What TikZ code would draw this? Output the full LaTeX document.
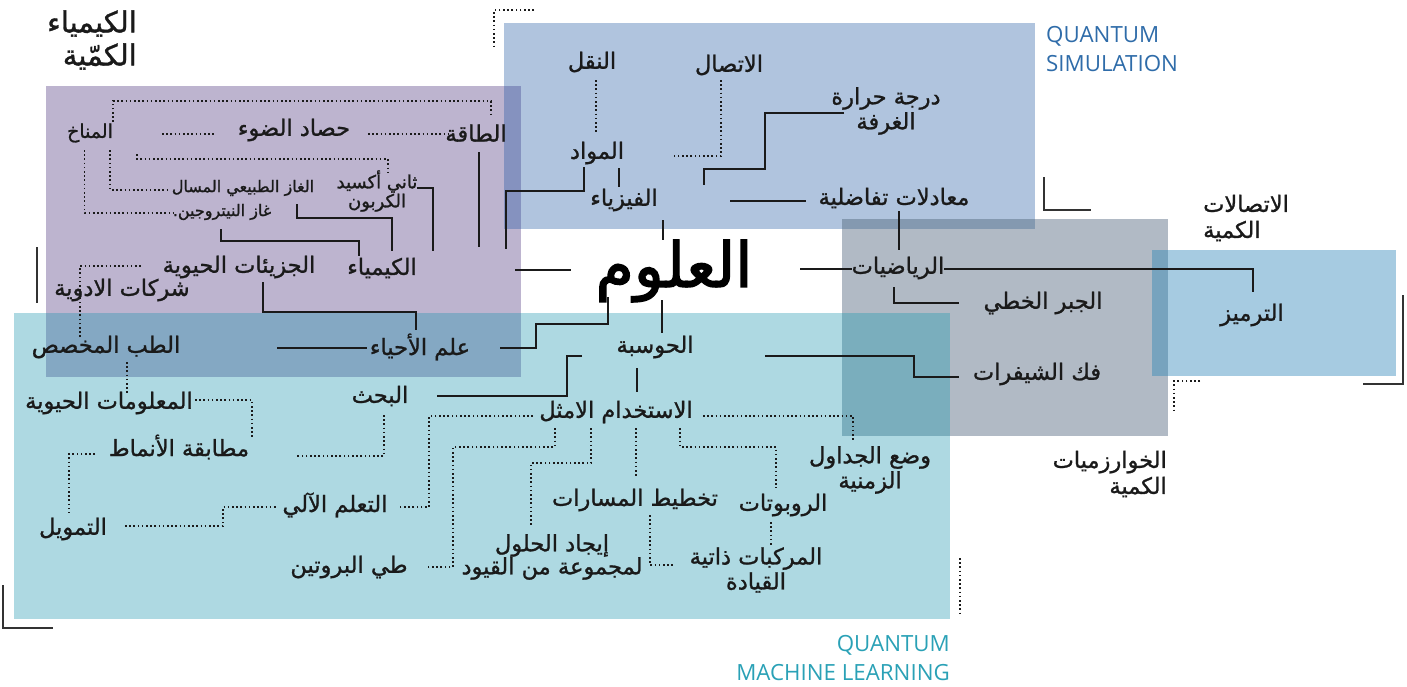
\documentclass[tikz,border=0pt]{standalone}
\usepackage{fontspec}
\newfontfamily\arabicfont[Script=Arabic,FakeBold=1.1]{DejaVu Sans}
\newfontfamily\arabicheavy[Script=Arabic,FakeBold=2.2]{DejaVu Sans}
\newfontfamily\latinfont{Open Sans}
\TeXXeTstate=1
\newcommand{\artxt}[1]{\beginR #1\endR}
\definecolor{ink}{HTML}{1A1A1A}
\definecolor{cornerc}{HTML}{333333}
\definecolor{simblue}{HTML}{B0C4DE}
\definecolor{chempurple}{HTML}{BDB4CF}
\definecolor{mlteal}{HTML}{AED9E2}
\definecolor{algogray}{HTML}{B1BAC5}
\definecolor{commblue}{HTML}{A6CBE1}
\definecolor{ovPB}{HTML}{8592BF}
\definecolor{ovPT}{HTML}{84A8C3}
\definecolor{ovBG}{HTML}{8499B0}
\definecolor{ovGT}{HTML}{7AAEBD}
\definecolor{ovGL}{HTML}{77A3BE}
\definecolor{simtext}{HTML}{2F6CA9}
\definecolor{mltext}{HTML}{2AA1B6}
\begin{document}
\begin{tikzpicture}[x=1pt,y=-1pt,
  solidline/.style={draw=ink,line width=1.5pt},
  dotline/.style={draw=ink,line width=1.6pt,dash pattern=on 1.6pt off 2.6pt},
  cornerline/.style={draw=cornerc,line width=1.5pt},
  cornerdot/.style={draw=ink,line width=1.6pt,dash pattern=on 1.6pt off 2.6pt},
  lbl/.style={font=\arabicfont\fontsize{22.5}{25}\selectfont,text=ink,inner sep=0pt,align=center},
  sml/.style={font=\arabicfont\fontsize{16}{18}\selectfont,text=ink,inner sep=0pt,align=center},
  big/.style={font=\arabicheavy\fontsize{62}{64}\selectfont,text=black,inner sep=0pt},
  ttl/.style={font=\arabicfont\fontsize{22.5}{26}\selectfont,text=ink,inner sep=0pt},
  entl/.style={font=\latinfont\fontsize{22.3}{29}\selectfont,inner sep=0pt}]
\useasboundingbox (0,0) rectangle (1407,686);
% regions
\fill[simblue] (504,23) rectangle (1035,229);
\fill[chempurple] (46,86) rectangle (521,377);
\fill[mlteal] (14,313) rectangle (950,619);
\fill[algogray] (842,219) rectangle (1168,436);
\fill[commblue] (1152,250) rectangle (1396,376);
\fill[ovPB] (504,86) rectangle (521,229);
\fill[ovPT] (46,313) rectangle (521,377);
\fill[ovBG] (842,219) rectangle (1035,229);
\fill[ovGT] (842,313) rectangle (950,436);
\fill[ovGL] (1152,250) rectangle (1168,376);
% corner marks
\draw[cornerdot] (534,10) coordinate (cA) -- (494,10) -- (494,48);
\draw[cornerline] (37,247) coordinate (cB) -- (37,303);
\draw[cornerline] (1044,177) coordinate (cC) -- (1044,210) -- (1091,210);
\draw[cornerline] (1403,295) coordinate (cD) -- (1403,384) -- (1363,384);
\draw[cornerdot] (1200,381) coordinate (cE) -- (1174,381) -- (1174,411);
\draw[cornerdot] (960,558) coordinate (cF) -- (960,613);
\draw[cornerline] (3,585) coordinate (cG) -- (3,628) -- (53,628);
% titles
\node[ttl,font=\arabicfont\fontsize{29}{33}\selectfont,align=right,anchor=east] (tchem) at (137,40) {\artxt{الكيمياء}\\\artxt{الكمّية}};
\node[ttl,align=left,anchor=west] (tcomm) at (1203,218) {\artxt{الاتصالات}\\\artxt{الكمية}};
\node[ttl,align=right,anchor=east] (talgo) at (1167,474) {\artxt{الخوارزميات}\\\artxt{الكمية}};
\node[entl,text=simtext,align=left,anchor=west] (tsim) at (1046,49) {QUANTUM\\SIMULATION};
\node[entl,text=mltext,align=right,anchor=east] (tml) at (950,658) {QUANTUM\\MACHINE LEARNING};
% nodes
\node[big] (ulum) at (674,271) {\artxt{العلوم}};
\node[lbl] (fiz) at (624,200) {\artxt{الفيزياء}};
\node[lbl] (mawad) at (597,153) {\artxt{المواد}};
\node[lbl] (naql) at (592,62) {\artxt{النقل}};
\node[lbl] (ittisal) at (729,65) {\artxt{الاتصال}};
\node[lbl] (daraja) at (886,111) {\artxt{درجة حرارة}\\\artxt{الغرفة}};
\node[lbl] (muadalat) at (894,198) {\artxt{معادلات تفاضلية}};
\node[lbl] (riyad) at (898,268) {\artxt{الرياضيات}};
\node[lbl] (jabr) at (1043,303) {\artxt{الجبر الخطي}};
\node[lbl] (tarmiz) at (1252,315) {\artxt{الترميز}};
\node[lbl] (fakk) at (1037,374) {\artxt{فك الشيفرات}};
\node[lbl] (hawsaba) at (655,347) {\artxt{الحوسبة}};
\node[lbl] (istikhdam) at (616,412) {\artxt{الاستخدام الامثل}};
\node[lbl] (wad) at (870,470) {\artxt{وضع الجداول}\\\artxt{الزمنية}};
\node[lbl] (robot) at (783,505) {\artxt{الروبوتات}};
\node[lbl] (markabat) at (756,570) {\artxt{المركبات ذاتية}\\\artxt{القيادة}};
\node[lbl] (takhtit) at (635,500) {\artxt{تخطيط المسارات}};
\node[lbl,font=\arabicfont\fontsize{22.5}{23}\selectfont] (ijad) at (552,557) {\artxt{إيجاد الحلول}\\\artxt{لمجموعة من القيود}};
\node[lbl] (tay) at (349,567) {\artxt{طي البروتين}};
\node[lbl] (taallum) at (335,505) {\artxt{التعلم الآلي}};
\node[lbl] (bahth) at (380,396) {\artxt{البحث}};
\node[lbl] (ahya) at (420,347) {\artxt{علم الأحياء}};
\node[lbl] (tibb) at (106,347) {\artxt{الطب المخصص}};
\node[lbl] (maalumat) at (109,403) {\artxt{المعلومات الحيوية}};
\node[lbl] (mutabaqa) at (179,447) {\artxt{مطابقة الأنماط}};
\node[lbl] (tamwil) at (73,529) {\artxt{التمويل}};
\node[lbl] (juzayat) at (239,267) {\artxt{الجزيئات الحيوية}};
\node[lbl] (sharikat) at (122,290) {\artxt{شركات الادوية}};
\node[lbl] (kimya) at (382,268) {\artxt{الكيمياء}};
\node[sml] (nitro) at (222,212) {\artxt{غاز النيتروجين.}};
\node[sml] (lng) at (243,188) {\artxt{الغاز الطبيعي المسال}};
\node[sml,font=\arabicfont\fontsize{18}{18}\selectfont] (co2) at (377,191) {\artxt{ثاني أكسيد}\\\artxt{الكربون}};
\node[sml,font=\arabicfont\fontsize{19}{20}\selectfont] (manakh) at (90,133) {\artxt{المناخ}};
\node[lbl] (hasad) at (294,130) {\artxt{حصاد الضوء}};
\node[lbl] (taqa) at (476,133) {\artxt{الطاقة}};
% chemistry connectors
\draw[dotline] (113,122) coordinate (m1) -- (113,101) -- (491,101) -- (491,117) coordinate (t1);
\draw[dotline] (162,134) coordinate (h1) -- (215,134);
\draw[dotline] (368,134) coordinate (h2) -- (448,134);
\draw[dotline] (137,154) coordinate (h3) -- (137,159) -- (388,159) -- (388,173);
\draw[dotline] (84.5,150) coordinate (m2) -- (84.5,213) -- (176,213);
\draw[dotline] (110,150) coordinate (m3) -- (110,190) -- (170,190);
\draw[solidline] (221,229) coordinate (n1) -- (221,241) -- (359,241) -- (359,256);
\draw[solidline] (297,204) coordinate (l1) -- (297,218) -- (392,218) -- (392,251);
\draw[solidline] (417,188) coordinate (o1) -- (433,188) -- (433,251);
\draw[solidline] (479,152) coordinate (e1) -- (479,247);
\draw[solidline] (584,167) coordinate (w1) -- (584,191) -- (506,191) -- (506,249);
\draw[dotline] (80,337) coordinate (s1) -- (80,266) -- (143,266);
\draw[solidline] (263,282) coordinate (j1) -- (263,312) -- (416,312) -- (416,330);
% physics connectors
\draw[solidline] (619,168) coordinate (p1) -- (619,187);
\draw[dotline] (596,80) coordinate (p2) -- (596,133);
\draw[dotline] (721,80) coordinate (p3) -- (721,156) -- (673,156);
\draw[solidline] (844,113) coordinate (p4) -- (765,113) -- (765,169) -- (704,169) -- (704,185);
\draw[solidline] (730,201) coordinate (p5) -- (806,201);
\draw[solidline] (899,211) coordinate (p6) -- (899,250);
\draw[solidline] (663,220) coordinate (p7) -- (663,240);
% centre
\draw[solidline] (515,270) coordinate (u1) -- (571,270);
\draw[solidline] (800,269) coordinate (u2) -- (852,269);
\draw[solidline] (944,269) coordinate (r1) -- (1253,269) -- (1253,292);
\draw[solidline] (894,287) coordinate (r2) -- (894,303) -- (959,303);
\draw[solidline] (662,300) coordinate (u3) -- (662,333);
\draw[solidline] (608,297) coordinate (u4) -- (608,324) -- (536,324) -- (536,348) -- (500,348);
\draw[solidline] (277,348) coordinate (b1) -- (367,348);
% computing connectors
\draw[solidline] (765,356) coordinate (c1) -- (914,356) -- (914,377) -- (959,377);
\draw[solidline] (582,356) coordinate (c2) -- (567,356) -- (567,396) -- (437,396);
\draw[solidline] (637,368) coordinate (c3) -- (637,392);
\draw[dotline] (703,416) coordinate (d1) -- (853,416) -- (853,442);
\draw[dotline] (533,416) coordinate (d2) -- (429,416) -- (429,507) -- (399,507);
\draw[dotline] (555,428) coordinate (d3) -- (555,447) -- (453,447) -- (453,567) -- (427,567);
\draw[dotline] (591,428) coordinate (d4) -- (591,463) -- (531,463) -- (531,527);
\draw[dotline] (636,428) coordinate (d5) -- (636,478);
\draw[dotline] (680,428) coordinate (d6) -- (680,447) -- (776,447) -- (776,488);
\draw[dotline] (771,522) coordinate (d7) -- (771,545);
\draw[dotline] (650,515) coordinate (d8) -- (650,565) -- (674,565);
\draw[dotline] (384,415) coordinate (d9) -- (384,456) -- (295,456);
% bio connectors
\draw[dotline] (127,362) coordinate (g1) -- (127,393);
\draw[dotline] (195,400) coordinate (g2) -- (252,400) -- (252,437);
\draw[dotline] (95,454) coordinate (g3) -- (69,454) -- (69,513);
\draw[dotline] (125,526) coordinate (g4) -- (223,526) -- (223,507) -- (277,507);
\end{tikzpicture}
\end{document}
